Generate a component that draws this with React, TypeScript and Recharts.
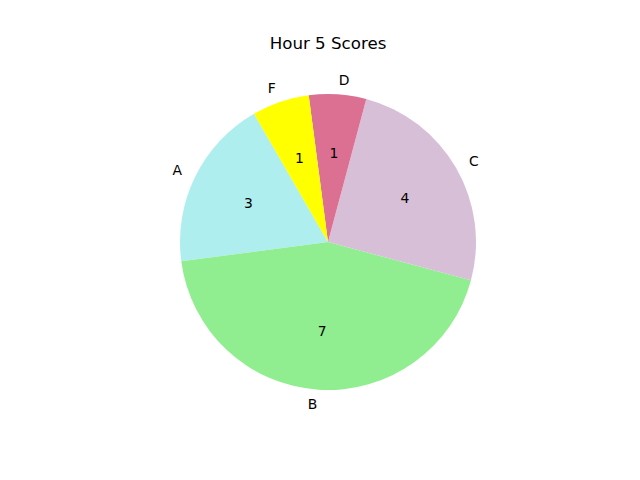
import React from "react";
import { PieChart, Pie, Cell } from "recharts";

const categories = ["A", "B", "C", "D", "F"];
const counts = [3, 7, 4, 1, 1];
const colors = ["#AFEEEE", "#90EE90", "#D8BFD8", "#DB7093", "#FFFF00"];
const title = "Hour 5 Scores";

const data = categories.map((name, i) => ({ name, value: counts[i] }));

const RADIAN = Math.PI / 180;
const FONT = "DejaVu Sans, sans-serif";

const renderLabel = (props: any) => {
  const { cx, cy, midAngle, outerRadius, name, value } = props;
  const cos = Math.cos(-midAngle * RADIAN);
  const sin = Math.sin(-midAngle * RADIAN);
  const lr = outerRadius * 1.1;
  const vr = outerRadius * 0.6;
  const lx = cx + lr * cos;
  const ly = cy + lr * sin;
  const vx = cx + vr * cos;
  const vy = cy + vr * sin;
  return (
    <g>
      <text
        x={lx}
        y={ly}
        textAnchor={cos >= 0 ? "start" : "end"}
        dominantBaseline="central"
        fontSize={13.9}
        fontFamily={FONT}
        fill="#000"
      >
        {name}
      </text>
      <text
        x={vx}
        y={vy}
        textAnchor="middle"
        dominantBaseline="central"
        fontSize={13.9}
        fontFamily={FONT}
        fill="#000"
      >
        {value}
      </text>
    </g>
  );
};

export default function App() {
  return (
    <div style={{ width: 640, height: 480, background: "#fff" }}>
      <style>{`body{margin:0}`}</style>
      <PieChart width={640} height={480} margin={{ top: 0, right: 0, bottom: 0, left: 0 }}>
        <text
          x={328}
          y={49}
          textAnchor="middle"
          fontSize={16.67}
          fontFamily={FONT}
          fill="#000"
        >
          {title}
        </text>
        <Pie
          data={data}
          dataKey="value"
          nameKey="name"
          cx={328}
          cy={242}
          innerRadius={0}
          outerRadius={148}
          startAngle={120}
          endAngle={480}
          stroke="none"
          label={renderLabel}
          labelLine={false}
          isAnimationActive={false}
        >
          {data.map((d, i) => (
            <Cell key={d.name} fill={colors[i]} stroke="none" />
          ))}
        </Pie>
      </PieChart>
    </div>
  );
}
